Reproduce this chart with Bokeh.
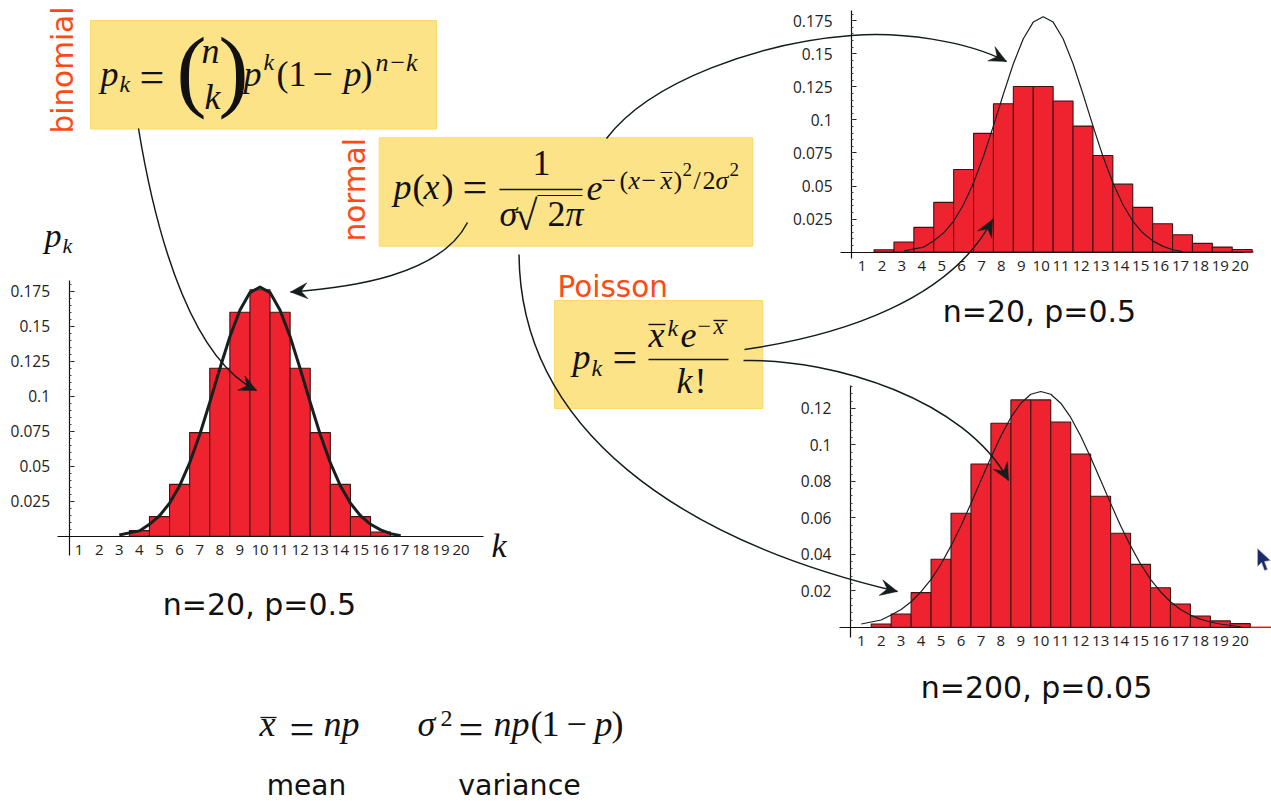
from bokeh.plotting import figure
from bokeh.models import Range1d, LinearAxis, FixedTicker
from bokeh.core.properties import value
from bokeh.embed import file_html
from bokeh.resources import INLINE
import math

# ---- data ----
k_ticks = [1, 2, 3, 4, 5, 6, 7, 8, 9, 10, 11, 12, 13, 14, 15, 16, 17, 18, 19, 20]
k_labels = [str(k) for k in k_ticks]

binom_k = [4, 5, 6, 7, 8, 9, 10, 11, 12, 13, 14, 15, 16]
binom_v = [0.004, 0.014, 0.037, 0.074, 0.120, 0.160, 0.176, 0.160, 0.120, 0.074, 0.037, 0.014, 0.003]

normal20_x = [3, 3.5, 4, 4.5, 5, 5.5, 6, 6.5, 7, 7.5, 8, 8.5, 9, 9.5, 10,
              10.5, 11, 11.5, 12, 12.5, 13, 13.5, 14, 14.5, 15, 15.5, 16, 16.5, 17]
normal20_y = [0.0008, 0.0024, 0.0038, 0.0085, 0.0146, 0.0235, 0.036, 0.0524, 0.0725, 0.0955, 0.1196, 0.1425, 0.1614, 0.174, 0.178,
              0.174, 0.1614, 0.1425, 0.1196, 0.0955, 0.0725, 0.0524, 0.036, 0.0235, 0.0146, 0.0085, 0.0045, 0.0018, 0.0004]

pois20_k = [2, 3, 4, 5, 6, 7, 8, 9, 10, 11, 12, 13, 14, 15, 16, 17, 18, 19, 20]
pois20_v = [0.0018, 0.0076, 0.0187, 0.0376, 0.0625, 0.0898, 0.1122, 0.1253, 0.1253, 0.1142,
            0.0953, 0.0731, 0.0514, 0.0338, 0.0214, 0.0131, 0.0066, 0.0038, 0.0020]

pois200_k = [2, 3, 4, 5, 6, 7, 8, 9, 10, 11, 12, 13, 14, 15, 16, 17, 18, 19, 20]
pois200_v = [0.0018, 0.0073, 0.0190, 0.0373, 0.0625, 0.0895, 0.1118, 0.1246, 0.1246, 0.1125,
             0.0950, 0.0718, 0.0515, 0.0345, 0.0217, 0.0128, 0.0062, 0.0035, 0.0020]

normal200_x = [1, 1.5, 2, 2.5, 3, 3.5, 4, 4.5, 5, 5.5, 6, 6.5, 7, 7.5, 8, 8.5, 9, 9.5, 10,
               10.5, 11, 11.5, 12, 12.5, 13, 13.5, 14, 14.5, 15, 15.5, 16, 16.5, 17, 17.5, 18, 18.5, 19, 19.5, 20]
normal200_y = [0.0018, 0.0029, 0.0040, 0.0067, 0.0098, 0.0140, 0.0195, 0.0263, 0.0347, 0.0446, 0.0557, 0.0679, 0.0806, 0.0931, 0.1048, 0.1150, 0.1228, 0.1277, 0.1292,
               0.1277, 0.1228, 0.1150, 0.1048, 0.0931, 0.0806, 0.0679, 0.0557, 0.0446, 0.0347, 0.0263, 0.0195, 0.0140, 0.0098, 0.0067, 0.0045, 0.0029, 0.0018, 0.0010, 0.0003]

y_ticks_a = [0.025, 0.05, 0.075, 0.1, 0.125, 0.15, 0.175]
y_labels_a = ["0.025", "0.05", "0.075", "0.1", "0.125", "0.15", "0.175"]
y_minor_a = [0.005 * i for i in range(1, 37)]
y_ticks_b = [0.02, 0.04, 0.06, 0.08, 0.1, 0.12]
y_labels_b = ["0.02", "0.04", "0.06", "0.08", "0.1", "0.12"]
y_minor_b = [0.004 * i for i in range(1, 34)]

# ---- canvas ----
W, H = 1271, 801
RED, EDGE, INK = "#EF2330", "#3d1416", "#16201f"
ORANGE, BOXFILL, BOXLINE = "#FF4A12", "#FDE388", "#FDD96A"
SANS, SERIF, TICKF = "DejaVu Sans", "Liberation Serif", "Open Sans"

p = figure(width=W, height=H, x_range=Range1d(0, W), y_range=Range1d(H, 0),
           x_axis_type=None, y_axis_type=None, toolbar_location=None,
           output_backend="svg", min_border=0, outline_line_color=None,
           background_fill_color="white")
p.grid.visible = False


def chart(name, x0, u, y0, s, ks, vs, cx, cy, cw, yt, yl, ym, axis_k, ytop, ybot, xa, xb, dx=0.0, red_to=None):
    p.extra_x_ranges[name] = Range1d((0 - x0) / u, (W - x0) / u)
    p.extra_y_ranges[name] = Range1d((y0 - H) / s, y0 / s)
    p.extra_x_ranges[name + "t"] = Range1d((0 - x0 - dx) / u, (W - x0 - dx) / u)
    if red_to:
        p.segment([(xb - x0) / u], [0], [(red_to - x0) / u], [0], line_color="#F01020", line_width=1.5,
                  x_range_name=name, y_range_name=name)
    p.vbar(x=ks, top=vs, bottom=0, width=1.0, fill_color=RED, line_color=EDGE, line_width=1.1,
           x_range_name=name, y_range_name=name)
    p.line(cx, cy, line_color=INK, line_width=cw, x_range_name=name, y_range_name=name, line_join="round")
    ax = LinearAxis(x_range_name=name, y_range_name=name, fixed_location=axis_k, bounds=(ybot, ytop),
                    ticker=FixedTicker(ticks=yt, minor_ticks=ym),
                    major_label_overrides=dict(zip(yt, yl)),
                    axis_line_color="#111111", axis_line_width=1.2,
                    major_tick_in=5, major_tick_out=0, minor_tick_in=2, minor_tick_out=0,
                    major_tick_line_color="#222222", minor_tick_line_color="#444444",
                    major_label_standoff=19, major_label_text_font=TICKF,
                    major_label_text_font_size="15.5px", major_label_text_color="#222222")
    p.add_layout(ax, "left")
    bx = LinearAxis(x_range_name=name + "t", y_range_name=name, fixed_location=0,
                    bounds=((xa - x0 - dx) / u, (xb - x0 - dx) / u),
                    ticker=FixedTicker(ticks=k_ticks, minor_ticks=[]),
                    major_label_overrides=dict(zip(k_ticks, k_labels)),
                    axis_line_color="#111111", axis_line_width=1.2,
                    major_tick_in=0, major_tick_out=0, minor_tick_in=0, minor_tick_out=0,
                    major_label_standoff=9, major_label_text_font=TICKF,
                    major_label_text_font_size="15px", major_label_text_color="#222222")
    p.add_layout(bx, "below")


chart("a", 58.5, 20.1, 535.7, 1400, binom_k, binom_v, normal20_x, normal20_y, 3.0,
      y_ticks_a, y_labels_a, y_minor_a, 0.5, 0.183, -0.014, 57, 483)
chart("b", 843.7, 19.9, 251.6, 1322, pois20_k, pois20_v, normal20_x, normal20_y, 1.2,
      y_ticks_a, y_labels_a, y_minor_a, 0.367, 0.183, -0.005, 840, 1243, dx=-2, red_to=1253)
chart("c", 840.8, 19.95, 626.8, 1825, pois200_k, pois200_v, normal200_x, normal200_y, 1.2,
      y_ticks_b, y_labels_b, y_minor_b, 0.46, 0.1325, -0.0055, 839, 1242, red_to=1271)

# ---- boxes ----
for (l, t_, r, b) in [(90, 20, 436, 128.5), (378.7, 137.3, 752.3, 245.7), (554, 300, 762.3, 408)]:
    p.quad(left=[l], right=[r], top=[t_], bottom=[b], fill_color=BOXFILL, line_color=BOXLINE, line_width=1)


# ---- arrows ----
def arrow(x0, y0, c1x, c1y, c2x, c2y, x1, y1, w=1.5, head=True, L=17, hw=8):
    p.bezier(x0=[x0], y0=[y0], x1=[x1], y1=[y1], cx0=[c1x], cy0=[c1y], cx1=[c2x], cy1=[c2y],
             line_color="#141c1c", line_width=w)
    if head:
        a = math.atan2(y1 - c2y, x1 - c2x)
        ca, sa = math.cos(a), math.sin(a)
        pts = [(0, 0), (-L, -hw), (-L * 0.62, 0), (-L, hw)]
        p.patch([x1 + q * ca - r * sa for q, r in pts], [y1 + q * sa + r * ca for q, r in pts],
                fill_color="#141c1c", line_color="#141c1c", line_width=0.5)


arrow(138, 128, 158, 250, 195, 360, 256, 390)
arrow(467, 222, 440, 275, 350, 287, 290, 291.5)
arrow(606, 138, 650, 80, 760, 42, 851, 35, head=False)
arrow(851, 35, 900, 31, 965, 40, 1006, 61)
arrow(518.5, 254, 520, 430, 680, 540, 897, 591)
arrow(744, 349, 840, 335, 950, 300, 992, 219)
arrow(743, 360, 835, 358, 965, 400, 1008, 480)


# ---- text ----
SHIFT = 0.31  # the text glyph draws this many ems under the requested baseline


def t(x, y, s, size, font=SERIF, style="italic", color="#111111", align="left", angle=0.0):
    d = SHIFT * size
    p.text(x=[x - d * math.sin(angle)], y=[y - d * math.cos(angle)], text=[s], text_font=value(font),
           text_font_size=f"{size}px", text_font_style=style, text_color=color, text_align=align,
           text_baseline="alphabetic", angle=angle)


def rule(x0, x1, y, w=1.3):
    p.segment([x0], [y], [x1], [y], line_color="#111111", line_width=w)


R = "normal"
# category labels
t(72, 133, "binomial", 29.5, SANS, R, ORANGE, angle=math.pi / 2)
t(364, 241, "normal", 29.5, SANS, R, ORANGE, angle=math.pi / 2)
t(557, 296, "Poisson", 29.5, SANS, R, ORANGE)
# captions
t(259, 613, "n=20, p=0.5", 30, SANS, R, "#111111", "center")
t(1039, 320, "n=20, p=0.5", 30, SANS, R, "#111111", "center")
t(1036, 696, "n=200, p=0.05", 30, SANS, R, "#111111", "center")
t(306, 794, "mean", 28, SANS, R, "#111111", "center")
t(519, 794, "variance", 28.5, SANS, R, "#111111", "center")
# axis letters
t(44, 246, "p", 34)
t(62, 252, "k", 22)
t(491, 556, "k", 34)

# binomial formula
t(100, 85, "p", 36); t(119, 91, "k", 24)
t(139, 91, "=", 44, style=R)
t(176, 97, "(", 90, style=R); t(201, 62, "n", 36); t(204, 108, "k", 36); t(218, 97, ")", 90, style=R)
t(243, 85, "p", 36); t(263, 69, "k", 24)
t(276, 85, "(", 36, style=R); t(288, 85, "1", 36, style=R); t(312, 85, "\u2212", 36, style=R)
t(343, 85, "p", 36); t(360, 85, ")", 36, style=R)
t(375, 70, "n\u2212k", 26)

# normal formula
t(393, 198, "p", 36); t(412, 198, "(", 36, style=R); t(423, 198, "x", 36); t(441, 198, ")", 36, style=R)
t(462, 201, "=", 44, style=R)
rule(499, 582, 189, 1.4)
t(532, 174, "1", 36, style=R)
t(499, 225, "\u03c3", 36); t(514, 229, "\u221a", 42, style=R); rule(537, 582, 195, 1.2)
t(547, 225, "2", 36, style=R); t(565, 225, "\u03c0", 36)
t(586, 199, "e", 36)
t(601, 188, "\u2212", 26, style=R); t(619, 188, "(", 26, style=R); t(628, 188, "x", 26); t(641, 188, "\u2212", 26, style=R)
t(660, 188, "x", 26); rule(660, 672, 172, 1); t(673, 188, ")", 26, style=R); t(682, 175, "2", 19, style=R)
t(693, 188, "/", 26, style=R); t(702, 188, "2", 26, style=R); t(715, 188, "\u03c3", 26); t(729, 175, "2", 19, style=R)

# Poisson formula
t(572, 368, "p", 36); t(591, 375, "k", 24)
t(612, 371, "=", 44, style=R)
rule(648, 728, 359, 1.6)
t(648, 346, "x", 36); rule(648, 665, 324, 1.4); t(667, 335, "k", 24); t(680, 346, "e", 36)
t(697, 333, "\u2212", 24, style=R); t(713, 333, "x", 24); rule(713, 727, 320, 1.4)
t(676, 392, "k", 36); t(694, 392, "!", 36, style=R)

# mean and variance
t(259, 735, "x", 36); rule(260, 276, 717, 1.3)
t(289, 743, "=", 44, style=R)
t(323, 735, "n", 36); t(341, 735, "p", 36)
t(417, 735, "\u03c3", 36); t(440, 725, "2", 24, style=R)
t(458, 743, "=", 44, style=R)
t(493, 735, "n", 36); t(511, 735, "p", 36); t(530, 735, "(", 36, style=R); t(541, 735, "1", 36, style=R)
t(566, 735, "\u2212", 36, style=R); t(594, 735, "p", 36); t(611, 735, ")", 36, style=R)

# mouse pointer seen in the screenshot
p.patch([1257, 1257, 1261, 1264, 1267, 1264, 1270], [548, 566, 562, 570, 569, 561, 560],
        fill_color="#1b2a6b", line_color="#bbbbbb", line_width=0.6)

open("out.html", "w").write(file_html(p, INLINE))
